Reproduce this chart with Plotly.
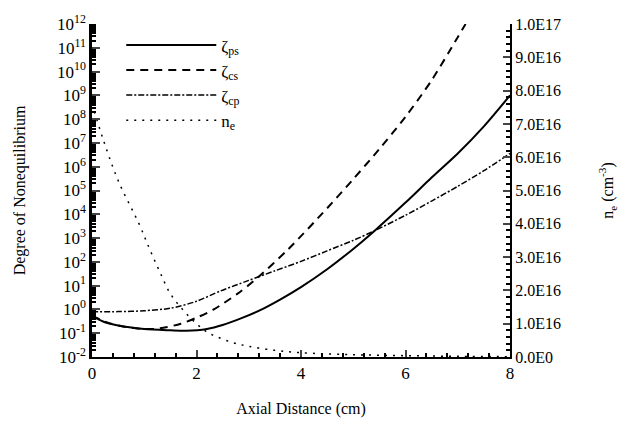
import plotly.graph_objects as go

# zeta_ps (solid)
x_ps = [0.0, 0.2, 0.5, 1.0, 1.5, 1.8, 2.2, 2.5, 2.85, 3.2, 3.6, 4.0, 4.5, 5.0, 5.4, 6.0, 6.5, 7.0, 7.5, 8.0]
y_ps = [0.55, 0.32, 0.21, 0.15, 0.132, 0.126, 0.15, 0.22, 0.42, 0.89, 2.6, 8.7, 49, 350, 1.95e3,
        3.1e4, 3.5e5, 3.6e6, 5.0e7, 1.0e9]

# zeta_cs (dashed)
x_cs = [0.0, 0.3, 0.6, 1.0, 1.3, 1.7, 2.0, 2.33, 2.78, 3.1, 3.75, 4.5, 5.0, 5.5, 6.0, 6.5, 7.0, 7.15]
y_cs = [0.55, 0.28, 0.19, 0.15, 0.16, 0.25, 0.45, 1.0, 4.5, 16, 330, 1.8e4, 3.0e5, 5.6e6, 1.26e8,
        4.3e9, 2.8e11, 1.0e12]

# zeta_cp (dash-dot)
x_cp = [0.0, 0.5, 1.0, 1.5, 2.0, 2.46, 3.0, 3.5, 4.0, 4.5, 5.0, 5.4, 6.0, 6.5, 7.0, 7.5, 8.0]
y_cp = [0.81, 0.81, 0.88, 1.12, 2.2, 6.0, 16.6, 42, 105, 290, 800, 2.0e3, 9.1e3, 3.6e4, 1.5e5,
        6.8e5, 3.6e6]

# n_e (dotted, right axis)
x_ne = [0.0, 0.2, 0.5, 0.9, 1.1, 1.3, 1.5, 1.75, 2.0, 2.2, 2.4, 2.7, 3.0, 3.5, 4.0, 5.0, 6.0, 7.0, 8.0]
y_ne = [7.6e16, 6.6e16, 5.3e16, 4.0e16, 3.25e16, 2.55e16, 1.9e16, 1.4e16, 1.0e16, 0.75e16, 0.6e16,
        0.43e16, 0.32e16, 0.2e16, 0.13e16, 0.07e16, 0.04e16, 0.02e16, 0.01e16]

left_exps = list(range(-2, 13))
left_vals = [10.0 ** e for e in left_exps]
left_text = ["10<sup>%d</sup>" % e for e in left_exps]
left_minor = [m * 10.0 ** e for e in range(-2, 12) for m in range(2, 10)]

right_vals = [i * 1e16 for i in range(0, 11)]
right_text = ["0.0E0", "1.0E16", "2.0E16", "3.0E16", "4.0E16", "5.0E16",
              "6.0E16", "7.0E16", "8.0E16", "9.0E16", "1.0E17"]

x_ticks = [0, 2, 4, 6, 8]

FONT = "Liberation Serif"

fig = go.Figure()
fig.add_trace(go.Scatter(x=x_ps, y=y_ps, mode="lines", name="ζ<sub>ps</sub>",
                         line=dict(color="black", width=2, shape="spline", smoothing=0.8)))
fig.add_trace(go.Scatter(x=x_cs, y=y_cs, mode="lines", name="ζ<sub>cs</sub>",
                         line=dict(color="black", width=2, dash="8px,6px", shape="spline", smoothing=0.8)))
fig.add_trace(go.Scatter(x=x_cp, y=y_cp, mode="lines", name="ζ<sub>cp</sub>",
                         line=dict(color="black", width=1.5, dash="6px,2px,2px,2px", shape="spline",
                                   smoothing=0.8)))
fig.add_trace(go.Scatter(x=x_ne, y=y_ne, mode="lines", name="n<sub>e</sub>", yaxis="y2",
                         line=dict(color="black", width=1.5, dash="2px,6px", shape="spline")))

fig.update_layout(
    width=627, height=427,
    margin=dict(l=92, r=117, t=20, b=69),
    paper_bgcolor="white", plot_bgcolor="white",
    font=dict(family=FONT, color="black", size=15),
    showlegend=True,
    legend=dict(x=0.07, y=0.99, xanchor="left", yanchor="top",
                bgcolor="rgba(0,0,0,0)", itemwidth=90,
                font=dict(family=FONT, size=17), tracegroupgap=0),
    xaxis=dict(range=[0, 8], tickvals=x_ticks, ticks="inside", ticklen=7, tickwidth=1.5,
               showline=True, linecolor="black", linewidth=2, showgrid=False, zeroline=False,
               tickfont=dict(family=FONT, size=17),
               minor=dict(dtick=0.4, ticks="inside", ticklen=4, tickcolor="black", showgrid=False),
               title=dict(text="Axial Distance (cm)", font=dict(family=FONT, size=16), standoff=20)),
    yaxis=dict(type="log", range=[-2, 12], tickvals=left_vals, ticktext=left_text,
               ticks="inside", ticklen=8, tickwidth=2, showline=True, linecolor="black",
               linewidth=2.5, showgrid=False, zeroline=False,
               tickfont=dict(family=FONT, size=17),
               minor=dict(tickvals=left_minor, ticks="inside", ticklen=4, tickcolor="black",
                          showgrid=False),
               title=dict(text="Degree of Nonequilibrium", font=dict(family=FONT, size=16), standoff=28)),
    yaxis2=dict(overlaying="y", side="right", range=[0, 1e17], tickvals=right_vals,
                ticktext=right_text, ticks="inside", ticklen=7, tickwidth=1.5,
                showline=True, linecolor="black", linewidth=2, showgrid=False, zeroline=False,
                tickfont=dict(family=FONT, size=16),
                minor=dict(dtick=2e15, ticks="inside", ticklen=4, tickcolor="black", showgrid=False),
                title=dict(text="n<sub>e</sub> (cm<sup>-3</sup>)", font=dict(family=FONT, size=16),
                           standoff=42)),
)

fig.write_html("out.html")
